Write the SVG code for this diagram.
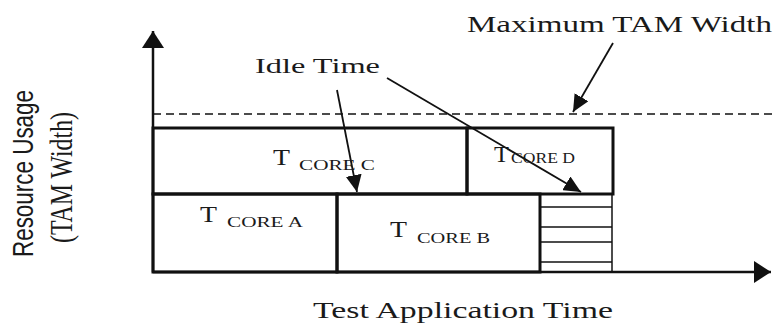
<svg xmlns="http://www.w3.org/2000/svg" width="774" height="329" viewBox="0 0 774 329">
<style>
.box{fill:none;stroke:#111;stroke-width:3}
.hatch{fill:none;stroke:#111;stroke-width:1.5}
.axis{fill:none;stroke:#111;stroke-width:2.5}
.ptr{fill:none;stroke:#111;stroke-width:1.8}
.serif{font-family:"Liberation Serif","Times New Roman",serif;fill:#1a1a1a}
.sans{font-family:"Liberation Sans",Arial,sans-serif;fill:#1a1a1a}
.big{font-size:23px}
.sub{font-size:15px}
</style>
<defs>
<marker id="ah" markerUnits="userSpaceOnUse" markerWidth="18" markerHeight="16" refX="17" refY="8" orient="auto">
<path d="M0,0 L17,8 L0,16 z" fill="#111"/>
</marker>
<marker id="axh" markerUnits="userSpaceOnUse" markerWidth="18" markerHeight="22" refX="17" refY="11" orient="auto">
<path d="M0,0 L17,11 L0,22 z" fill="#111"/>
</marker>
</defs>
<rect width="774" height="329" fill="#fff"/>

<g id="connectors">
<line class="axis" x1="153" y1="272" x2="153" y2="31" marker-end="url(#axh)"/>
<line class="axis" x1="153" y1="272" x2="771" y2="272" marker-end="url(#axh)"/>
<line x1="153" y1="114" x2="774" y2="114" stroke="#111" stroke-width="1.5" stroke-dasharray="8,5"/>
<line class="ptr" x1="337" y1="90" x2="357" y2="192" marker-end="url(#ah)"/>
<line class="ptr" x1="387" y1="78" x2="581" y2="192" marker-end="url(#ah)"/>
<line class="ptr" x1="613" y1="43" x2="573" y2="112" marker-end="url(#ah)"/>
</g>

<g id="core-c">
<rect class="box" x="153" y="128" width="314" height="66"/>
<text class="serif big" x="273" y="165" textLength="17" lengthAdjust="spacingAndGlyphs">T</text>
<text class="serif sub" x="299" y="170" textLength="76" lengthAdjust="spacingAndGlyphs">CORE C</text>
</g>
<g id="core-d">
<rect class="box" x="467" y="128" width="146" height="66"/>
<text class="serif big" x="494" y="162" textLength="15" lengthAdjust="spacingAndGlyphs">T</text>
<text class="serif sub" x="511" y="163" textLength="64" lengthAdjust="spacingAndGlyphs">CORE D</text>
</g>
<g id="core-a">
<rect class="box" x="153" y="194" width="184" height="78"/>
<text class="serif big" x="200" y="222" textLength="17" lengthAdjust="spacingAndGlyphs">T</text>
<text class="serif sub" x="227" y="227" textLength="76" lengthAdjust="spacingAndGlyphs">CORE A</text>
</g>
<g id="core-b">
<rect class="box" x="337" y="194" width="203" height="78"/>
<text class="serif big" x="390" y="237" textLength="17" lengthAdjust="spacingAndGlyphs">T</text>
<text class="serif sub" x="417" y="243" textLength="73" lengthAdjust="spacingAndGlyphs">CORE B</text>
</g>
<g id="idle-block">
<line class="hatch" x1="540" y1="194" x2="540" y2="272"/>
<line class="hatch" x1="612" y1="194" x2="612" y2="272"/>
<line class="hatch" x1="540" y1="207" x2="612" y2="207"/>
<line class="hatch" x1="540" y1="227" x2="612" y2="227"/>
<line class="hatch" x1="540" y1="242" x2="612" y2="242"/>
<line class="hatch" x1="540" y1="262" x2="612" y2="262"/>
</g>

<g id="labels">
<text class="serif" font-size="22" x="255" y="73" textLength="125" lengthAdjust="spacingAndGlyphs">Idle Time</text>
<text class="serif" font-size="24" x="467" y="32" textLength="305" lengthAdjust="spacingAndGlyphs">Maximum TAM Width</text>
<text class="serif" font-size="24" x="313" y="318" textLength="300" lengthAdjust="spacingAndGlyphs">Test Application Time</text>
<text class="sans" font-size="22" transform="translate(33,257) scale(1.35,1) rotate(-90)" textLength="167" lengthAdjust="spacingAndGlyphs">Resource Usage</text>
<text class="serif" font-size="23" transform="translate(72,243) scale(1.35,1) rotate(-90)" textLength="131" lengthAdjust="spacingAndGlyphs">(TAM Width)</text>
</g>
</svg>
